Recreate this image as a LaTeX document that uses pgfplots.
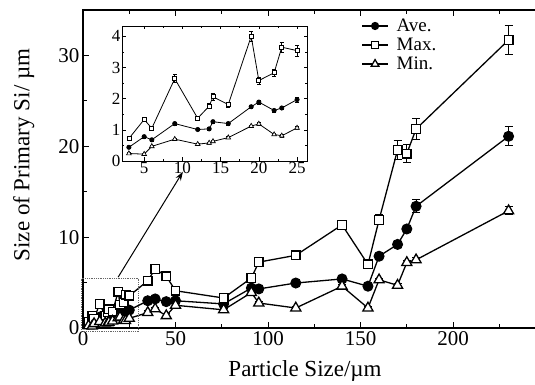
\documentclass[border=0pt]{standalone}
\usepackage{fontspec}
\setmainfont{Liberation Serif}
\usepackage{pgfplots}
\usepackage{pgfplotstable}
\pgfplotsset{compat=1.18}
\usetikzlibrary{arrows.meta}

\pgfplotstableread{
x ave avee max maxe min mine
3 0.44 0.04 0.72 0.05 0.24 0.03
5 0.78 0.04 1.33 0.05 0.22 0.03
6 0.68 0.04 1.05 0.05 0.47 0.03
9 1.20 0.05 2.64 0.13 0.70 0.03
12 1.01 0.04 1.37 0.06 0.54 0.03
13.5 1.03 0.04 1.76 0.08 0.58 0.03
14 1.26 0.04 2.06 0.10 0.63 0.03
16 1.20 0.04 1.81 0.08 0.75 0.03
19 1.74 0.05 4.00 0.16 1.12 0.04
20 1.89 0.06 2.58 0.12 1.19 0.04
22 1.62 0.05 2.83 0.12 0.85 0.04
23 1.70 0.05 3.65 0.17 0.81 0.04
25 1.97 0.08 3.54 0.17 1.06 0.04
35 3.0 0.2 5.2 0.3 1.7 0.2
39 3.2 0.2 6.5 0.3 2.1 0.2
45 2.9 0.2 5.7 0.3 1.35 0.2
50 3.0 0.2 4.1 0.3 2.5 0.2
76 2.65 0.2 3.3 0.35 2.0 0.2
91 4.4 0.2 5.5 0.3 3.9 0.2
95 4.3 0.2 7.25 0.3 2.75 0.2
115 4.95 0.2 8.0 0.3 2.2 0.2
140 5.4 0.25 11.35 0.45 4.6 0.2
154 4.6 0.2 7.0 0.3 2.2 0.2
160 7.9 0.3 11.9 0.55 5.3 0.2
170 9.2 0.3 19.6 1.0 4.7 0.2
175 10.9 0.3 19.2 1.0 7.2 0.2
180 13.4 0.7 21.9 1.2 7.5 0.25
230 21.1 1.05 31.7 1.6 12.9 0.45
}\data

\pgfplotsset{
  myleg/.style={legend image code/.code={%
    \draw[mark repeat=2,mark phase=2,mark size=#1,line width=1.2pt]
      plot coordinates {(0pt,0pt) (13pt,0pt) (26pt,0pt)};}},
}

\begin{document}
\begin{tikzpicture}[x=1pt,y=1pt]
\begin{axis}[
  at={(83pt,57pt)}, anchor=south west,
  scale only axis, width=455pt, height=318pt,
  xmin=0, xmax=245.9, ymin=0, ymax=35,
  clip=false,
  xtick={0,50,...,200}, minor xtick={25,75,...,225},
  ytick={0,10,20,30}, minor ytick={5,15,25},
  ytick pos=left,
  tick align=inside,
  major tick length=6pt, minor tick length=4pt,
  axis line style={line width=1.3pt},
  every tick/.style={black, line width=1pt},
  /pgf/number format/assume math mode=true,
  tick label style={font=\fontsize{21}{21}\selectfont},
  label style={font=\fontsize{23}{23}\selectfont},
  xlabel={Particle Size/µm},
  ylabel={Size of Primary Si/ µm},
  xlabel style={at={(axis description cs:0.488,-0.154)}, anchor=base},
  ylabel style={at={(axis description cs:-0.13,0.544)}, anchor=center},
  legend style={draw=none, fill=none, at={(axis description cs:0.605,0.985)}, anchor=north west,
    font=\fontsize{19}{19}\selectfont, row sep=1pt, column sep=6pt,
    nodes={inner sep=2pt}},
  legend cell align=left,
]
\addplot[black, line width=1.3pt, mark=*, mark size=5pt, mark options={solid, fill=black, line width=1pt},
  myleg=3.6pt,
  error bars/.cd, y dir=both, y explicit, error bar style={line width=1pt},
  error mark options={rotate=90, mark size=4pt, line width=1pt}]
  table[x=x, y=ave, y error=avee] {\data};
\addlegendentry{Ave.}
\addplot[black, line width=1.3pt, mark=square*, mark size=4.3pt, mark options={solid, fill=white, line width=1.3pt},
  myleg=3.3pt,
  error bars/.cd, y dir=both, y explicit, error bar style={line width=1pt},
  error mark options={rotate=90, mark size=4pt, line width=1pt}]
  table[x=x, y=max, y error=maxe] {\data};
\addlegendentry{Max.}
\addplot[black, line width=1.3pt, mark=triangle*, mark size=5.8pt, mark options={solid, fill=white, line width=1.3pt},
  myleg=4.4pt,
  error bars/.cd, y dir=both, y explicit, error bar style={line width=1pt},
  error mark options={rotate=90, mark size=4pt, line width=1pt}]
  table[x=x, y=min, y error=mine] {\data};
\addlegendentry{Min.}
\draw[densely dotted, line width=0.8pt, black!60] (axis cs:-1,-0.4) rectangle (axis cs:30,5.5);
\draw[-{Stealth[length=9pt,width=6pt]}, line width=1pt] (axis cs:19,5.6) -- (axis cs:54,17.2);
\end{axis}

\begin{axis}[
  at={(122pt,224pt)}, anchor=south west,
  scale only axis, width=185pt, height=135pt,
  xmin=2.1, xmax=26.3, ymin=0, ymax=4.33,
  axis background/.style={fill=white},
  xtick={5,10,...,25}, minor x tick num=1,
  ytick={0,1,2,3,4}, minor y tick num=1,
  tick align=inside,
  major tick length=3.5pt, minor tick length=2pt,
  axis line style={line width=0.8pt},
  every tick/.style={black, line width=0.6pt},
  /pgf/number format/assume math mode=true,
  tick label style={font=\fontsize{17}{17}\selectfont},
  xticklabel style={inner sep=1pt},
  yticklabel style={inner sep=1.5pt},
]
\addplot[black, line width=0.8pt, mark=*, mark size=2.2pt, mark options={solid, fill=black, line width=0.6pt},
  restrict x to domain=0:26,
  error bars/.cd, y dir=both, y explicit, error bar style={line width=0.6pt},
  error mark options={rotate=90, mark size=2pt, line width=0.6pt}]
  table[x=x, y=ave, y error=avee] {\data};
\addplot[black, line width=0.8pt, mark=square*, mark size=2pt, mark options={solid, fill=white, line width=0.7pt},
  restrict x to domain=0:26,
  error bars/.cd, y dir=both, y explicit, error bar style={line width=0.6pt},
  error mark options={rotate=90, mark size=2pt, line width=0.6pt}]
  table[x=x, y=max, y error=maxe] {\data};
\addplot[black, line width=0.8pt, mark=triangle*, mark size=2.7pt, mark options={solid, fill=white, line width=0.7pt},
  restrict x to domain=0:26,
  error bars/.cd, y dir=both, y explicit, error bar style={line width=0.6pt},
  error mark options={rotate=90, mark size=2pt, line width=0.6pt}]
  table[x=x, y=min, y error=mine] {\data};
\end{axis}
\pgfresetboundingbox
\useasboundingbox (0,0) rectangle (535,385);
\end{tikzpicture}
\end{document}
